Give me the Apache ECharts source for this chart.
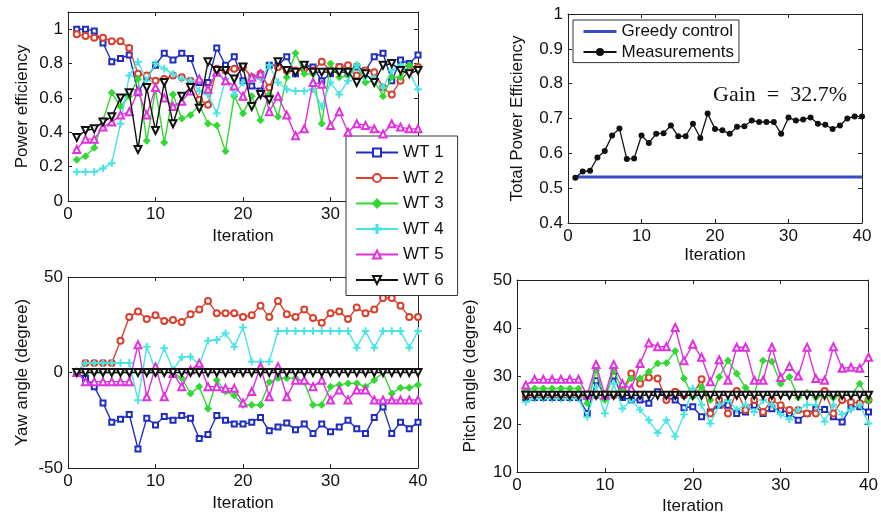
<!DOCTYPE html>
<html>
<head>
<meta charset="utf-8">
<title>Wind farm yaw and pitch control</title>
<script src="https://cdn.jsdelivr.net/npm/echarts@6/dist/echarts.min.js"></script>
<style>
  html, body { margin: 0; padding: 0; background: #fff; }
  #chart { width: 881px; height: 517px; }
</style>
</head>
<body>
<div id="chart"></div>
<script>
// Iteration index shared by every panel
const iterations = [1,2,3,4,5,6,7,8,9,10,11,12,13,14,15,16,17,18,19,20,
                    21,22,23,24,25,26,27,28,29,30,31,32,33,34,35,36,37,38,39,40];

const turbineNames = ['WT 1', 'WT 2', 'WT 3', 'WT 4', 'WT 5', 'WT 6'];

// Power efficiency of each turbine
const power1 = [1.00,1.00,0.99,0.92,0.81,0.83,0.85,0.63,0.72,0.79,0.86,0.82,0.86,0.83,0.69,0.69,0.89,0.79,0.84,0.70,
                0.67,0.64,0.79,0.79,0.84,0.74,0.79,0.78,0.70,0.74,0.78,0.74,0.78,0.76,0.84,0.86,0.70,0.82,0.80,0.85];
const power2 = [0.97,0.96,0.95,0.95,0.93,0.93,0.89,0.74,0.73,0.70,0.71,0.73,0.72,0.70,0.59,0.56,0.77,0.76,0.77,0.78,
                0.72,0.74,0.66,0.78,0.76,0.76,0.77,0.76,0.81,0.76,0.78,0.79,0.73,0.76,0.75,0.66,0.62,0.70,0.76,0.78];
const power3 = [0.24,0.26,0.31,0.47,0.63,0.55,0.61,0.71,0.35,0.65,0.34,0.62,0.48,0.50,0.56,0.45,0.44,0.29,0.61,0.51,
                0.61,0.47,0.62,0.49,0.72,0.86,0.74,0.74,0.45,0.80,0.72,0.73,0.79,0.69,0.70,0.61,0.72,0.72,0.79,0.77];
const power4 = [0.17,0.17,0.17,0.19,0.22,0.45,0.73,0.81,0.70,0.80,0.77,0.74,0.71,0.70,0.64,0.62,0.51,0.71,0.62,0.69,
                0.72,0.71,0.79,0.69,0.65,0.64,0.64,0.65,0.55,0.69,0.62,0.70,0.79,0.72,0.72,0.66,0.76,0.79,0.75,0.65];
const power5 = [0.30,0.36,0.36,0.43,0.46,0.50,0.52,0.64,0.50,0.66,0.60,0.55,0.58,0.64,0.71,0.65,0.75,0.70,0.67,0.61,
                0.72,0.74,0.52,0.61,0.50,0.38,0.42,0.69,0.68,0.44,0.52,0.40,0.45,0.44,0.42,0.39,0.45,0.43,0.42,0.42];
const power6 = [0.37,0.41,0.42,0.46,0.49,0.60,0.63,0.30,0.66,0.41,0.69,0.45,0.61,0.66,0.54,0.81,0.76,0.76,0.71,0.78,
                0.55,0.62,0.59,0.81,0.76,0.75,0.79,0.75,0.75,0.75,0.75,0.75,0.69,0.74,0.69,0.79,0.80,0.76,0.74,0.76];

// Yaw angle of each turbine (degree)
const yaw1 = [0,-3,-7.5,-16,-26,-24.5,-22,-40,-24,-27.5,-23,-25,-22.5,-24,-34.5,-32.5,-22.5,-25,-27,-27,
              -26,-23.5,-30.5,-28.5,-26.5,-30,-27,-32,-27,-31,-28.5,-25,-29.5,-32,-23.5,-18,-32,-26,-29.5,-26];
const yaw2 = [0,5,5,5,5,16.6,29,32,28,30,27,27.5,26.5,30.5,33,37.5,31,31,31,29,
              30,35,29,37.5,30.5,29,33,28.5,26,31,32,28,34,31,33,39,39,35,29,29];
const yaw3 = [0,0,0,0,0,0,0,0,0,0,0,0,-3,-11,-7.4,-19,-4,-10,-12,-17,
              -17,-17,-5,-3,-3,-3,-5,-17,-17,-7.4,-6.5,-5.7,-5.7,-7.4,-4,0,-11,-8,-8,-6.5];
const yaw4 = [0,5,5,5,5,5,5,-14.5,13.5,1,12.7,1.3,8,8.3,4,16.6,17,20.5,13.5,23.6,
              5.7,5.7,5.7,21.7,21.7,21.7,21.7,21.7,21.7,21.7,21.7,21.7,13,21.7,13,21.7,21.7,21.7,13,21.7];
const yaw5 = [0,-4.8,-4.8,-4.8,-4.8,-4.8,-4.8,14.5,-12.7,3,-12.7,-0.5,-7.4,1.3,4.8,-7.4,-7.4,-8.3,-8.3,-16,
              -10,3,-12.7,3,-12.7,-4,-4,-7.4,-4,-14.4,-9.2,-14.4,-9.2,-9.2,-14.4,-14.4,-14.4,-14.4,-14.4,-14.4];
const yaw6 = [0,0,0,0,0,0,0,0,0,0,0,0,0,0,0,0,0,0,0,0,
              0,0,0,0,0,0,0,0,0,0,0,0,0,0,0,0,0,0,0,0];

// Pitch angle of each turbine (degree)
const pitch1 = [25.5,25.5,25.5,25.5,25.5,25.5,25.5,22.2,29,26,30,25.5,25,25,24.3,26.7,25.5,25,23.4,23.6,
                21.5,22.5,23.9,23.9,22.2,22.5,23.9,22.2,23.2,23,22.2,20.8,22.2,23,23,21.5,20.4,23.6,23.6,22.5];
const pitch2 = [26,26,26,26,26,26,26,26,26,26,26,27,30.5,28.4,29.7,29.5,25,26.7,26,26,
                29.3,22.2,25,22.2,26.9,22.9,25,22.5,25,23.9,22.9,22.9,22.2,22.2,26.9,22.2,25,24.6,24.3,25];
const pitch3 = [27,27.4,27.4,27.4,27.4,27.4,27.4,24.3,31.2,25,31.2,27,29.5,29.5,30.9,32.6,32.7,35.2,29.5,25.7,
                27.7,25,29.8,33.2,30.5,27.6,26,33.2,33,28.4,29.8,25.5,26.5,25.5,26,25.5,26,26,28.4,25];
const pitch4 = [24.6,25.3,25.3,25.3,25.3,25.3,25.3,21.5,27.7,22.2,28.4,23.2,25,23,20.8,18.1,20.8,17.4,22,27.4,
                24,20.1,24,25,23,24,22.5,25,24,22,21,23,24,24,20.5,24,22,23,24,20.1];
const pitch5 = [28.1,29.3,29.3,29.3,29.3,29.3,29.3,26,32.4,26,32.4,28.4,27.4,32.6,36.9,36.1,36.1,40.1,33.2,36.6,
                33.9,28.8,33.4,29.1,36,36,29.1,29.1,36,29.7,32,30,36,29.5,29.1,36.1,31.6,31.8,31.6,33.9];
const pitch6 = [26,26,26,26,26,26,26,26,26,26,26,26,26,26,26,26,26,26,26,26,
                26,26,26,26,26,26,26,26,26,26,26,26,26,26,26,26,26,26,26,26];

// Total power efficiency of the farm
const totalMeasured = [0.530,0.548,0.550,0.588,0.607,0.651,0.671,0.584,0.585,0.651,0.630,0.656,0.658,0.680,0.649,0.649,0.685,0.644,0.714,0.670,
                       0.666,0.656,0.676,0.678,0.694,0.690,0.690,0.690,0.656,0.703,0.694,0.697,0.703,0.685,0.682,0.670,0.680,0.700,0.706,0.706];
const greedyEfficiency = 0.532;

const powerSets = [power1, power2, power3, power4, power5, power6];
const yawSets = [yaw1, yaw2, yaw3, yaw4, yaw5, yaw6];
const pitchSets = [pitch1, pitch2, pitch3, pitch4, pitch5, pitch6];

// Marker look for each turbine
const plusPath = 'path://M4.3,0H5.7V4.3H10V5.7H5.7V10H4.3V5.7H0V4.3H4.3Z';
const turbineLook = [
  { color: '#1f2dc2', symbol: 'emptyRect', size: 5, rotate: 0 },
  { color: '#d9402d', symbol: 'emptyCircle', size: 6, rotate: 0 },
  { color: '#33d933', symbol: 'diamond', size: 7, rotate: 0 },
  { color: '#48e4e4', symbol: plusPath, size: 7, rotate: 0 },
  { color: '#e030e0', symbol: 'emptyTriangle', size: 7, rotate: 0 },
  { color: '#111111', symbol: 'emptyTriangle', size: 7, rotate: 180 }
];

const GREEDY_BLUE = '#3a4ccc';
const FONT = '"Liberation Sans", Arial, Helvetica, sans-serif';
const INK = '#111';

function pairs(values) {
  return iterations.map((x, i) => [x, values[i]]);
}

function axisPair(kind, grid, min, max, interval, name, nameGap, extra) {
  const common = {
    type: 'value', gridIndex: grid, min: min, max: max, interval: interval,
    axisLine: { show: true, onZero: false, lineStyle: { color: '#222', width: 1 } },
    axisTick: { show: true, inside: true, length: 4, lineStyle: { color: '#222' } },
    splitLine: { show: false }
  };
  const main = Object.assign({}, common, {
    position: kind === 'x' ? 'bottom' : 'left',
    name: name, nameLocation: 'middle', nameGap: nameGap,
    nameTextStyle: { fontFamily: FONT, fontSize: 17, color: INK },
    axisLabel: Object.assign({ fontFamily: FONT, fontSize: 17, color: INK, margin: 5 }, extra || {})
  });
  const mirror = Object.assign({}, common, {
    position: kind === 'x' ? 'top' : 'right',
    axisLabel: { show: false }
  });
  return [main, mirror];
}

const xAxes = [].concat(
  axisPair('x', 0, 0, 40, 10, 'Iteration', 27),
  axisPair('x', 1, 0, 40, 10, 'Iteration', 24),
  axisPair('x', 2, 0, 40, 10, 'Iteration', 27),
  axisPair('x', 3, 0, 40, 10, 'Iteration', 26)
);
const yAxes = [].concat(
  axisPair('y', 0, 0, 1.1, 0.2, 'Power efficiency', 37, { showMaxLabel: false }),
  axisPair('y', 1, 0.4, 1, 0.1, 'Total Power Efficiency', 42),
  axisPair('y', 2, -50, 50, 50, 'Yaw angle (degree)', 37),
  axisPair('y', 3, 10, 50, 10, 'Pitch angle (degree)', 38)
);

function turbineSeries(sets, grid) {
  return sets.map((values, k) => {
    const look = turbineLook[k];
    return {
      type: 'line', name: turbineNames[k],
      xAxisIndex: grid * 2, yAxisIndex: grid * 2,
      data: pairs(values),
      symbol: look.symbol, symbolSize: look.size, symbolRotate: look.rotate,
      showAllSymbol: true,
      lineStyle: { color: look.color, width: 1.4 },
      itemStyle: { color: look.color, borderColor: look.color, borderWidth: 1 },
      emphasis: { disabled: true },
      z: 2 + k
    };
  });
}

const series = [].concat(
  turbineSeries(powerSets, 0),
  turbineSeries(yawSets, 2),
  turbineSeries(pitchSets, 3),
  [
    {
      type: 'line', name: 'Greedy control', xAxisIndex: 2, yAxisIndex: 2,
      data: [[iterations[0], greedyEfficiency], [iterations[iterations.length - 1], greedyEfficiency]],
      symbol: 'none', lineStyle: { color: GREEDY_BLUE, width: 3 },
      itemStyle: { color: GREEDY_BLUE }, emphasis: { disabled: true }
    },
    {
      type: 'line', name: 'Measurements', xAxisIndex: 2, yAxisIndex: 2,
      data: pairs(totalMeasured),
      symbol: 'circle', symbolSize: 6, showAllSymbol: true,
      lineStyle: { color: '#111', width: 1.3 },
      itemStyle: { color: '#111' }, emphasis: { disabled: true }
    }
  ]
);

const finalGain = (totalMeasured[totalMeasured.length - 1] / greedyEfficiency - 1) * 100;

const option = {
  animation: false,
  backgroundColor: '#fff',
  grid: [
    { left: 68, top: 12, width: 350, height: 189 },
    { left: 568, top: 14, width: 294, height: 209 },
    { left: 68, top: 277, width: 350, height: 191 },
    { left: 517, top: 280, width: 354, height: 192 }
  ],
  xAxis: xAxes,
  yAxis: yAxes,
  legend: [
    {
      data: turbineNames, orient: 'vertical', left: 346, top: 136,
      itemWidth: 42, itemHeight: 10, itemGap: 8.5,
      padding: [8, 14, 7, 9], selectedMode: false,
      backgroundColor: '#fff', borderColor: '#333', borderWidth: 1, borderRadius: 0,
      textStyle: { fontFamily: FONT, fontSize: 17, color: INK }
    },
    {
      data: [
        { name: 'Greedy control', itemStyle: { opacity: 0 }, lineStyle: { width: 3, color: GREEDY_BLUE } },
        'Measurements'
      ],
      orient: 'vertical', left: 573, top: 20,
      itemWidth: 33, itemHeight: 10, itemGap: 3.6,
      padding: [3, 5, 2, 9], selectedMode: false,
      backgroundColor: '#fff', borderColor: '#333', borderWidth: 1, borderRadius: 0,
      textStyle: { fontFamily: FONT, fontSize: 17, color: INK }
    }
  ],
  graphic: [
    {
      type: 'text', x: 780, y: 95, z: 10,
      style: {
        text: 'Gain\u2002=\u2002' + finalGain.toFixed(1) + '%',
        font: '22px "Liberation Serif", "Times New Roman", serif',
        fill: INK, align: 'center', verticalAlign: 'middle'
      }
    }
  ],
  series: series
};

const chart = echarts.init(document.getElementById('chart'), null, { renderer: 'canvas' });
chart.setOption(option);
</script>
</body>
</html>
